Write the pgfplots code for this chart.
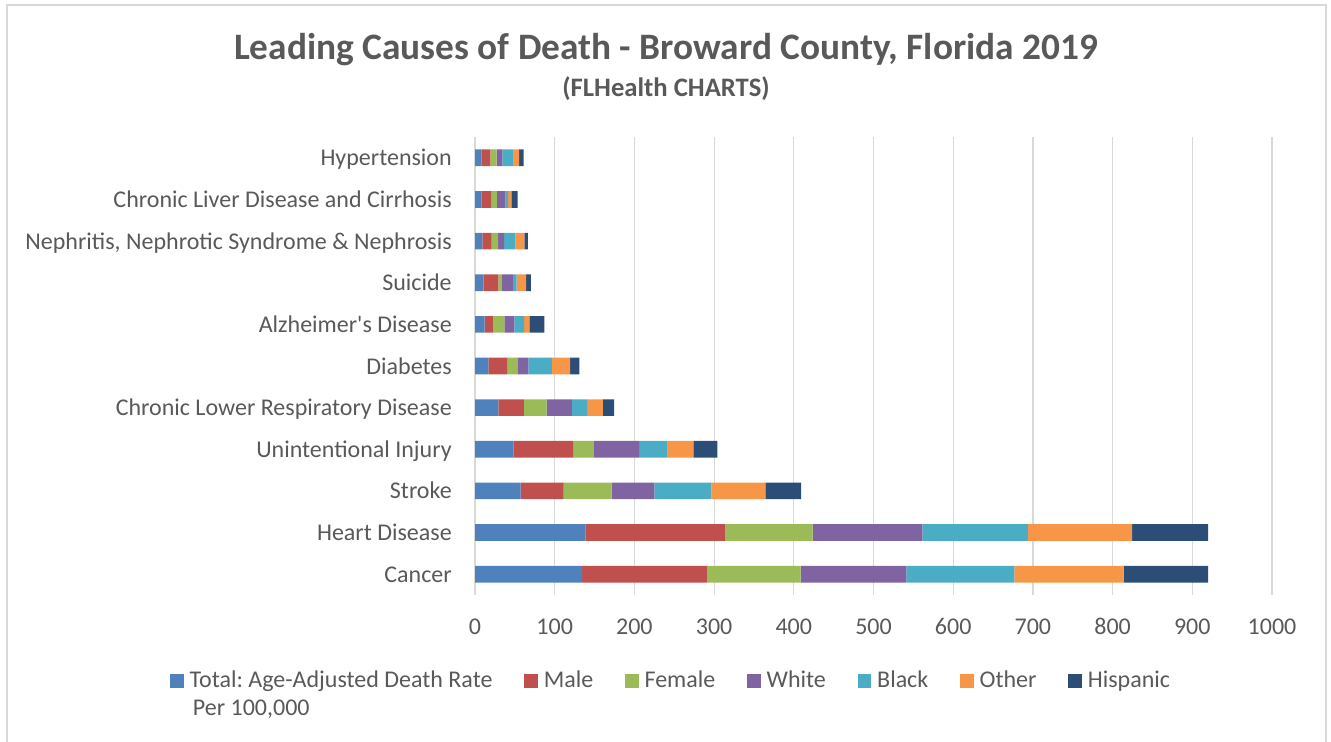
\documentclass[border=0pt]{standalone}
\usepackage{fontspec}
\setmainfont{Carlito}
\frenchspacing
\usepackage{pgfplots}
\usepackage{pgfplotstable}
\pgfplotsset{compat=1.18}
\definecolor{cTotal}{HTML}{4F81BD}
\definecolor{cMale}{HTML}{C0504D}
\definecolor{cFemale}{HTML}{9BBB59}
\definecolor{cWhite}{HTML}{8064A2}
\definecolor{cBlack}{HTML}{4BACC6}
\definecolor{cOther}{HTML}{F79646}
\definecolor{cHisp}{HTML}{2C4D75}
\definecolor{txt}{HTML}{595959}
\definecolor{gridc}{HTML}{D9D9D9}

\pgfplotstableread{
idx Total Male Female White Black Other Hispanic
0  134.3 156.5 117.9 132.4 135.8 137.0 106.0
1  138.4 175.8 109.4 137.8 132.4 130.7 95.4
2  57.3  54.0  60.2  53.5  71.5  67.8  44.8
3  48.6  74.4  26.3  56.5  36.0  32.1  30.1
4  29.2  32.2  28.5  31.7  19.2  19.7  14.2
5  16.7  23.5  12.9  13.8  29.7  22.6  11.7
6  12.2  10.8  13.8  12.5  12.2  6.6   18.8
7  10.9  18.3  4.6   13.8  4.6   12.0  5.9
8  9.2   11.8  7.9   7.5   14.2  11.3  4.3
9  8.4   11.7  7.2   10.8  3.4   4.1   8.0
10 8.4   10.8  8.0   7.0   14.3  7.0   5.5
}\data

\begin{document}
\begin{tikzpicture}[x=0.75pt,y=-0.75pt]
\path[use as bounding box] (0,0) rectangle (1331,742);
\draw[gridc, line width=1.5pt] (7,760) -- (7,5) -- (1326,5) -- (1326,760);
\node[font=\fontsize{28}{33}\selectfont\bfseries, text=txt, anchor=base, inner sep=0pt] at (666,60) {Leading Causes of Death - Broward County, Florida 2019};
\node[font=\fontsize{20}{24}\selectfont\bfseries, text=txt, anchor=base, inner sep=0pt] at (666,96) {(FLHealth CHARTS)};
\begin{axis}[
  at={(356.25pt,-446.25pt)}, anchor=south west,
  scale only axis, width=597.75pt, height=343.5pt,
  xbar stacked, bar width=0.4,
  xmin=0, xmax=1000, ymin=-0.5, ymax=10.5,
  xtick={0,100,...,1000}, ytick={0,...,10},
  yticklabels={Cancer,Heart Disease,Stroke,Unintentional Injury,Chronic Lower Respiratory Disease,Diabetes,Alzheimer\textquotesingle s Disease,Suicide,{Nephritis, Nephrotic Syndrome \& Nephrosis},Chronic Liver Disease and Cirrhosis,Hypertension},
  scaled x ticks=false,
  /pgf/number format/set thousands separator={},
  /pgf/number format/assume math mode=true,
  major tick length=0pt,
  xmajorgrids, x grid style={gridc, line width=0.9pt},
  separate axis lines,
  x axis line style={draw=none},
  y axis line style={gridc, line width=1.1pt},
  tick label style={font=\fontsize{18}{21}\selectfont, text=txt},
  xticklabel style={anchor=base, inner sep=0pt, yshift=-29.25pt},
  yticklabel style={anchor=base east, inner sep=0pt, xshift=-17.25pt, yshift=-6pt},
  legend columns=7,
  legend style={draw=none, fill=none, at={(-0.3827,-0.1653)}, anchor=north west, inner sep=0pt,
    font=\fontsize{18}{21}\selectfont, text=txt,
    nodes={inner sep=0pt, anchor=base west},
    /tikz/every odd column/.append style={column sep=4.5pt},
    /tikz/every even column/.append style={column sep=24pt}},
  legend image code/.code={\fill[#1] (0pt,0pt) rectangle (10pt,10pt);},
]
\addplot[fill=cTotal, draw=none] table[x=Total, y=idx] {\data};
\addlegendentry{\vtop{\hbox{Total: Age-Adjusted Death Rate}\hbox{\hspace{2.5pt}Per 100,000}}}
\addplot[fill=cMale, draw=none] table[x=Male, y=idx] {\data};
\addlegendentry{Male}
\addplot[fill=cFemale, draw=none] table[x=Female, y=idx] {\data};
\addlegendentry{Female}
\addplot[fill=cWhite, draw=none] table[x=White, y=idx] {\data};
\addlegendentry{White}
\addplot[fill=cBlack, draw=none] table[x=Black, y=idx] {\data};
\addlegendentry{Black}
\addplot[fill=cOther, draw=none] table[x=Other, y=idx] {\data};
\addlegendentry{Other}
\addplot[fill=cHisp, draw=none] table[x=Hispanic, y=idx] {\data};
\addlegendentry{Hispanic}
\end{axis}
\end{tikzpicture}
\end{document}
